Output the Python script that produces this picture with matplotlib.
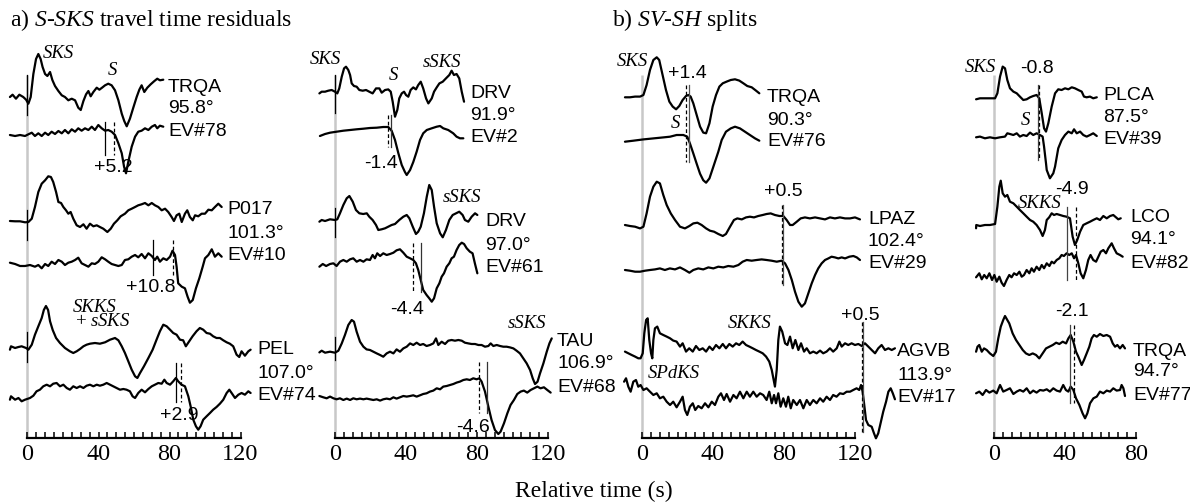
import numpy as np
import matplotlib
matplotlib.use("Agg")
import matplotlib.pyplot as plt
from matplotlib.ticker import FixedLocator

# ---------------------------------------------------------------------------
# Digitised traces: (relative time [s], amplitude [display units])
# ---------------------------------------------------------------------------
# a) S-SKS travel time residuals, left column
trqa_958_data = [(-9.9,0),(-8.4,2.3),(-6.5,-1.7),(-4.6,2.3),(-2.4,0),(-0.8,-2.7),(0.5,-6.7),(1.8,0),(3.3,23),(4.8,38),(6.1,43),(7.4,38),(8.5,30),(9.9,23),(11.2,21),(12.7,25),(14.0,17),(15.5,11),(17.4,6),(19.3,1.7),(21.1,0),(23.0,-3.3),(24.9,-1.7),(26.8,-3.3),(28.6,-10.7),(30.0,-13),(31.5,-4),(33.0,2.7),(34.3,6),(35.6,0.7),(37.1,5),(39.0,9.3),(40.5,7.3),(42.0,9.3),(43.7,11.7),(45.5,13.3),(47.4,11.7),(49.3,6.7),(51.2,-3.3),(53.1,-16.7),(54.5,-24),(55.9,-29.3),(57.7,-21.7),(59.6,-10.7),(61.5,0),(63.0,7.3),(64.3,11.7),(65.8,5),(67.5,9.3),(69.4,12.7),(71.3,15.7),(73.1,18.3),(74.6,16.7),(76.5,17.3)]
ev78_synth = [(-9.9,0),(-7.0,-1),(-4.2,0),(-1.4,-1),(0.5,0.7),(2.4,2.3),(4.2,-1),(6.1,1.7),(8.0,-1),(9.9,2.3),(11.7,0),(13.6,3.3),(15.5,1),(17.4,4),(19.3,1.7),(21.1,5),(23.0,1.7),(24.9,5.7),(26.8,3.3),(28.6,6.7),(30.5,4.3),(32.4,6.7),(34.3,5),(36.2,8.3),(38.0,5),(39.9,10),(41.8,6.7),(43.7,4.3),(45.5,5),(47.4,3.3),(49.3,0),(51.2,-8.3),(53.1,-18.3),(54.4,-31.7),(55.5,-38.3),(56.8,-26.7),(58.7,-11.7),(60.6,-1.7),(62.4,3.3),(64.3,4.3),(66.2,6.7),(68.1,5),(70.0,8.3),(71.8,10),(73.1,6.7),(74.6,9.3),(76.5,8.3)]
p017_data = [(-9.9,1),(-7.0,0.7),(-4.2,0.7),(-1.4,-0.3),(0.5,0),(2.4,3.3),(4.2,15),(6.1,30),(8.0,38.3),(9.9,41.7),(11.7,45.7),(13.2,45),(14.5,40),(16.1,30),(17.4,20),(18.9,19),(20.2,15),(21.7,11.7),(23.0,8.3),(24.3,10),(25.8,3.3),(27.7,-3.3),(29.6,-5),(31.5,-2.3),(33.3,-6.7),(35.2,-1.7),(37.1,-4.3),(39.0,-3.3),(40.8,-5),(42.7,-6.7),(45.0,-10),(46.9,-6.7),(48.7,-1.7),(50.6,1.7),(52.5,5.7),(54.9,8.3),(56.8,11.7),(58.7,13.3),(60.6,15),(62.4,16.7),(64.3,17.7),(66.2,19),(68.1,16.7),(70.0,19),(71.8,16.7),(73.7,15),(75.6,11.7),(77.5,13.3),(79.3,10),(81.2,5),(82.5,1),(84.0,6.7),(85.5,8.3),(86.9,0),(88.7,8.3),(90.0,11.7),(91.5,5),(93.1,1.7),(94.4,6.7),(96.2,5.7),(98.1,8.3),(100.0,8.3),(101.9,12.3),(103.8,11.7),(105.6,15),(107.5,18.3),(109.4,15)]
ev10_synth = [(-9.9,2.3),(-7.0,1),(-4.2,-1),(-1.4,-1),(1.4,0),(4.2,-1.7),(6.1,0),(8.0,-3.3),(9.9,1),(11.7,-1),(13.6,3.3),(15.5,1),(17.4,5),(19.3,3.3),(21.1,0),(23.0,2.3),(24.9,3.3),(26.8,5),(28.6,7.3),(30.5,1.7),(32.4,0),(34.3,-1.7),(36.2,1.7),(38.0,1),(39.9,3.3),(41.8,7.7),(43.7,5.7),(45.5,3.3),(47.4,1),(49.3,0),(51.2,-1),(53.1,0),(54.9,5),(56.8,5.7),(58.7,8.3),(60.6,10),(62.4,7.7),(64.3,11),(66.2,6.7),(68.1,11.7),(70.0,9),(71.8,5),(73.1,8.3),(74.6,3.3),(76.5,6.7),(78.4,5),(80.3,8.3),(81.7,14.3),(83.1,10),(84.0,-1.7),(84.9,-18.3),(86.9,-21.7),(88.7,-23.3),(90.2,-31.7),(91.5,-37.7),(93.1,-35),(94.9,-23.3),(96.8,-13.3),(98.7,-1.7),(100.0,6.7),(101.9,10),(103.8,15.7),(105.6,8.3),(107.5,11.7),(109.4,8.3)]
pel_data = [(-9.9,-1.7),(-9.3,1.7),(-7.0,0),(-5.1,1),(-3.3,1.7),(-0.8,0),(0.5,-1.7),(2.4,3.3),(4.2,13.3),(6.1,21.7),(8.0,30),(9.2,38),(10.4,42),(11.6,38),(12.7,26.7),(14.2,18),(16.1,10),(18.3,5),(21.1,0),(23.9,-3.3),(25.8,-5),(27.7,-3.3),(29.6,-1),(31.5,1.7),(33.3,3.3),(35.2,4.3),(38.0,5),(40.8,4.3),(43.7,5.7),(46.5,8.3),(49.3,10),(51.2,7.7),(53.1,1.7),(54.9,-5),(56.8,-13.3),(58.7,-21.7),(60.6,-28.3),(61.9,-30),(63.4,-25),(65.6,-18.3),(68.1,-10),(70.5,-1.7),(72.7,8.3),(74.6,16.7),(76.5,23.3),(78.4,21.7),(80.3,18.3),(82.1,15),(84.0,13.3),(85.9,8.3),(87.7,7.7),(89.2,1.7),(91.1,6.7),(93.0,11.7),(95.2,16.7),(97.1,20),(99.0,18.3),(100.9,15),(102.8,14.3),(104.6,11.7),(106.5,10),(108.4,10),(110.3,7.7),(112.2,5.7),(114.0,4.3),(115.9,1.7),(117.8,-6.7),(119.3,-9),(120.6,-3.3),(122.5,-7.7),(124.4,-3.3),(125.7,-1.7)]
ev74_synth = [(-9.9,-1.7),(-9.3,1.7),(-7.0,-1.7),(-5.1,0),(-3.3,-3.3),(-1.4,-1.7),(1.4,0),(3.3,2.3),(5.1,6.7),(7.0,8.3),(8.9,11.7),(10.8,13.3),(12.7,11.7),(14.5,14.3),(16.4,15),(18.3,11.7),(20.2,13.3),(22.1,10),(23.9,8.3),(25.8,11.7),(27.7,10),(29.6,11.7),(31.5,10),(33.3,12.3),(35.2,13.3),(37.1,11.7),(39.0,13.3),(40.8,12.3),(42.7,13.3),(44.6,15),(46.5,13.3),(48.3,11.7),(50.2,10),(52.1,8.3),(54.0,9),(55.8,8.3),(57.7,6.7),(59.2,1.7),(60.6,0),(62.4,5),(64.3,8.3),(66.2,5.7),(68.1,9),(70.0,11.7),(71.8,13.3),(73.7,15),(75.6,14.3),(77.1,18.3),(78.4,15),(80.3,13.3),(82.1,16.7),(83.6,20),(84.9,16.7),(86.8,13.3),(88.7,11.7),(90.6,1.7),(91.9,-8.3),(93.4,-21.7),(94.9,-28.3),(96.2,-31.7),(97.5,-28.3),(99.0,-21.7),(100.9,-18.3),(102.8,-15),(104.6,-11.7),(106.5,-9),(108.4,-5.7),(110.3,-1.7),(112.2,5),(113.7,8.3),(115.0,5),(116.9,0),(118.8,3.3),(120.6,5),(122.5,3.3),(124.4,6.7),(125.7,5)]

# a) S-SKS travel time residuals, right column
drv_919_data = [(-8.8,-0.7),(-7.5,1),(-5.6,1),(-3.8,2),(-1.9,2.7),(0.0,1),(1.3,-0.7),(2.4,4.3),(3.8,16),(5.1,24.3),(6.2,26),(7.5,22.7),(8.5,17.7),(9.4,9.3),(10.7,6.7),(12.2,6),(13.7,2.7),(15.6,2),(17.5,2.7),(19.3,1),(21.2,-0.7),(23.1,4.3),(25.0,4.3),(26.3,0),(28.2,2.7),(30.0,3.3),(31.4,1),(32.5,-9),(33.8,-24),(35.1,-17.3),(36.2,-5.7),(37.6,-0.7),(38.9,1),(40.0,-2.3),(41.3,-4),(42.6,2.7),(44.1,5.3),(45.6,3.3),(46.9,7.7),(48.3,11),(49.7,4.3),(51.3,-5.7),(52.6,-10.7),(54.5,-5.7),(55.8,1),(57.3,5.3),(58.8,9.3),(60.7,11),(62.5,14.3),(64.4,17.7),(65.7,22),(67.0,17.7),(68.5,18.7),(70.0,14.3),(71.4,1),(72.7,-9)]
ev2_synth = [(-8.5,-1),(-5.6,1),(-2.8,2.3),(0.9,3.3),(4.7,4.3),(8.5,5),(12.2,5.7),(16.0,6.3),(19.7,7),(23.5,7.3),(27.2,8),(30.0,8),(31.9,4.3),(33.8,-5),(35.7,-18.3),(37.6,-30),(39.4,-37),(40.4,-40),(42.3,-35),(44.1,-27),(46.0,-16.7),(47.9,-5),(49.7,1.7),(51.7,5),(54.5,6.7),(57.3,8.3),(59.2,9),(61.0,6.7),(63.8,5),(66.6,1.7),(68.5,-1.7),(70.4,-3.3),(72.3,-3.3)]
drv_970_data = [(-8.8,-0.7),(-7.5,1),(-5.6,0),(-2.8,1.7),(0.0,1),(1.3,1.7),(2.8,7.7),(4.7,16),(6.6,22.7),(8.1,25),(10.0,19.3),(11.8,11),(13.7,7.7),(15.9,7),(17.9,7.7),(19.3,4.3),(21.2,1),(23.1,-4),(24.4,-9),(26.3,-8.3),(28.2,-7.3),(30.0,-5.7),(31.9,-4),(33.8,-3),(36.2,1),(38.5,4.3),(40.4,6),(41.9,2.7),(43.8,-5.7),(45.6,-13),(46.9,-10.7),(48.3,-5.7),(50.1,7.7),(51.7,24.3),(53.1,36),(54.5,31),(55.8,14.3),(57.3,-2.3),(59.2,-12.3),(60.7,-16.3),(62.5,-9),(64.4,1),(66.3,6),(68.2,7.7),(70.0,9.3),(71.9,6),(73.2,1),(75.1,-0.7),(77.0,4.3),(78.9,7.7),(80.2,6)]
ev61_synth = [(-8.8,-0.7),(-6.9,2),(-5.0,0),(-2.8,2),(-0.9,2.7),(0.9,0),(2.8,4.3),(4.7,6),(6.6,4.3),(8.5,6.7),(10.3,7.7),(12.2,4.3),(14.1,6),(16.0,4.3),(17.8,6.7),(19.7,6),(21.2,11),(22.5,7.7),(23.8,12.7),(25.4,10),(27.2,12.7),(29.1,11),(31.0,12),(32.9,13.3),(34.7,15.7),(36.6,16.7),(38.5,13.3),(40.4,9.3),(42.3,7.7),(44.1,6),(45.6,2.7),(46.9,-4),(48.3,-14),(49.7,-24),(51.6,-29),(53.1,-32.3),(54.5,-35.7),(55.8,-32.3),(57.3,-22.3),(58.8,-17.3),(60.1,-10.7),(61.4,-7.3),(62.9,-0.7),(64.4,2.7),(65.7,7.7),(67.0,9.3),(68.5,16),(70.0,21),(71.4,23.3),(72.7,22),(74.2,17.7),(76.0,14.3),(77.5,12.7),(78.8,2.7),(80.2,-7.3)]
tau_data = [(-8.8,-0.7),(-7.5,1),(-5.6,-1),(-2.8,0),(0.0,-1),(1.9,1),(3.8,8.3),(5.6,16.7),(7.5,26.7),(9.4,31.7),(10.7,30),(12.2,20),(14.1,10),(16.0,5),(17.8,2.3),(19.7,1.7),(21.6,0),(23.5,-1.7),(25.4,-3.3),(27.2,-5),(29.1,-1.7),(31.0,0),(32.9,-1.7),(34.7,2.3),(36.6,0),(38.5,3.3),(40.4,5),(42.3,8.3),(44.1,6.7),(46.0,9),(47.9,6.7),(49.7,7.7),(51.6,5.7),(53.5,6.7),(55.4,8.3),(56.9,13.3),(58.2,6.7),(60.1,10),(62.0,7.7),(63.8,11),(65.7,11.7),(67.6,11),(69.5,11.7),(71.4,11),(73.2,9),(75.1,8.3),(77.0,7.7),(78.9,7.7),(80.8,6.7),(82.6,6.7),(84.5,5),(86.4,5.7),(87.7,8.3),(89.2,5.7),(91.1,6.7),(93.0,5.7),(94.8,5),(96.7,5),(98.6,4.3),(100.5,3.3),(102.3,1),(104.2,-1.7),(106.1,-6.7),(108.0,-11.7),(109.9,-18.3),(111.4,-26.7),(112.7,-32.3),(114.1,-30),(115.5,-21.7),(117.4,-11.7),(119.3,0),(120.8,8.3),(122.1,13.3)]
ev68_synth = [(-8.8,1.3),(-6.6,0),(-4.7,-1),(-2.8,0.7),(-0.9,-1),(0.9,-2),(2.8,-1),(4.7,-2.7),(6.6,-1.3),(8.5,-2.7),(10.3,-1),(12.2,-2),(14.1,-1.3),(16.0,-2),(17.8,-1.3),(19.7,-2),(21.6,-2.7),(23.5,-2),(25.4,-3.3),(27.2,-2),(29.1,-1.3),(31.0,-2),(32.9,0),(34.7,-1.3),(36.6,0),(38.5,1.3),(40.4,0.7),(42.3,1.3),(44.1,2),(46.0,0.7),(47.9,2),(49.7,3.3),(51.6,4),(53.5,5.7),(55.4,6.7),(57.3,9),(59.2,8),(61.0,10.7),(62.9,11.3),(64.8,12.3),(66.7,13.3),(68.5,14.7),(70.4,15.7),(72.3,17.3),(74.2,18),(76.0,17.3),(77.9,19),(79.8,18),(81.3,19),(82.6,15.7),(84.5,5.7),(86.4,-9.3),(88.2,-22.7),(90.1,-32.7),(92.0,-36.7),(93.3,-34.3),(95.2,-26),(97.1,-16),(98.9,-7.7),(100.8,-2.7),(102.7,3.3),(104.6,5.7),(106.4,6.7),(108.3,4.7),(110.2,7.3),(112.1,9),(114.0,10.7),(115.8,9),(117.7,10),(119.6,7.3),(121.5,4.7)]

# b) SV-SH splits, left column (SV on top, SH below)
trqa_903_sv = [(-9.6,0),(-6.8,0),(-3.9,0.7),(-1.1,0.7),(0.8,2.3),(2.6,12.3),(4.5,27.3),(6.4,37.3),(8.3,40),(9.7,37.3),(11.6,22.3),(13.5,7.3),(15.4,-4.3),(17.3,-9.3),(19.2,-12),(21.0,-8.7),(22.9,-2.7),(24.8,1.3),(26.1,2.3),(27.4,0.7),(28.9,-6),(30.8,-17.7),(32.7,-29.3),(34.5,-35.3),(36.1,-36),(38.0,-26),(39.8,-9.3),(41.7,2.3),(43.6,10.7),(45.5,14),(47.7,15.7),(50.0,17.3),(52.4,18),(54.8,16.7),(57.1,14),(59.3,11.3),(61.8,10),(64.2,6.7),(66.1,4)]
ev76_sh = [(-9.6,0),(-4.9,1),(0.8,2.3),(6.4,3.3),(12.0,4.3),(15.8,5),(19.5,6.7),(23.3,6.7),(25.5,5),(27.0,-1.7),(28.9,-11.7),(30.8,-22),(32.7,-32),(34.5,-38.5),(36.1,-41),(38.0,-36.7),(40.2,-25),(43.0,-10),(44.9,1.7),(47.3,10),(50.0,13.3),(52.4,15),(55.2,13.3),(58.0,10),(60.8,6.7),(63.7,3.3),(66.1,1)]
lpaz_sv = [(-9.6,1.7),(-6.8,0.7),(-3.9,0),(-1.1,-1.7),(0.8,0),(2.6,13.3),(4.5,30),(6.4,40),(8.3,45),(10.1,43.3),(12.0,31.7),(13.9,21.7),(16.2,13.3),(18.6,6.7),(21.4,0),(24.2,-1.7),(26.7,0.7),(28.9,3.3),(31.2,4),(33.6,1.7),(36.1,-1.7),(38.3,-4),(40.6,-5),(43.0,-7.3),(45.5,-9.3),(47.3,-7.3),(49.6,0),(51.8,6.7),(53.7,8.3),(56.2,7.3),(58.6,9.3),(60.8,10),(63.1,9.3),(65.5,10.7),(68.0,11.7),(70.2,12.7),(72.5,13.3),(74.9,11.7),(77.4,10.7),(79.6,10.7),(81.5,6.7),(83.4,1.7),(84.9,1.7),(87.2,5),(89.4,8.3),(91.8,9.3),(94.6,8.3),(97.5,9.3),(100.3,8.3),(103.1,7.3),(105.9,9.3),(108.7,8.3),(111.5,9.3),(114.4,8.3),(117.2,8.3),(120.0,9.3),(122.8,7.3)]
ev29_sh = [(-9.6,0.7),(-6.8,0),(-3.9,-1),(-1.1,-1),(1.7,0),(4.5,0.7),(7.3,1.3),(10.1,2.3),(12.9,0.7),(15.7,2.3),(18.6,1.3),(21.4,3.3),(24.2,0.7),(26.7,-2),(28.9,0.7),(31.7,2.3),(34.5,1.3),(37.4,3.3),(40.2,2.3),(43.0,4),(45.8,3.3),(48.6,4.7),(51.5,4),(54.3,5.7),(56.7,9),(59.0,10.7),(61.8,10),(64.6,10.7),(67.4,11.3),(70.2,10.7),(73.0,10),(75.9,9),(78.7,10),(80.6,7.3),(82.5,0.7),(84.4,-9.3),(86.2,-21),(88.1,-31),(90.0,-36),(91.8,-32.7),(93.7,-22.7),(95.6,-12.7),(97.5,-4.3),(99.3,2.3),(101.2,7.3),(103.1,10.7),(105.0,12.3),(106.8,14),(108.7,13.3),(110.6,12.3),(112.5,13.3),(114.4,12.3),(116.8,14),(119.1,14.7),(121.0,13.3),(122.8,10.7)]
agvb_sv = [(-9.6,1.7),(-7.7,0),(-5.8,-1.7),(-3.9,-3.3),(-2.1,-5),(-0.8,-5),(0.4,0),(1.3,20),(2.3,33.3),(3.2,35),(4.1,13.3),(5.1,0),(5.8,-5),(6.4,13.3),(7.3,25),(8.6,26.7),(10.1,20),(12.0,18.3),(13.9,16.7),(15.8,15),(17.6,12.7),(19.5,11.7),(21.4,6.7),(22.9,10),(24.8,1.7),(26.6,5),(28.6,1.7),(30.4,7.3),(32.3,3.3),(34.2,5),(36.1,1.7),(38.0,6.7),(39.8,3.3),(41.7,8.3),(43.6,5),(45.5,9.3),(47.3,5),(49.2,9.3),(51.1,6.7),(53.0,10),(54.8,8.3),(56.7,11.7),(58.6,8.3),(60.5,6.7),(62.4,5),(64.2,3.3),(66.1,1.7),(68.0,0),(69.9,-3.3),(71.7,-8.3),(73.1,-16.7),(74.0,-25),(74.9,-33.3),(75.9,-16.7),(76.8,13.3),(77.7,26.7),(79.0,21.7),(80.6,10),(81.9,8.3),(83.4,16.7),(84.9,5),(86.4,13.3),(88.1,3.3),(89.6,10),(91.3,1.7),(92.8,5),(94.6,0),(96.5,1.7),(98.4,0),(100.3,2.7),(102.1,0),(104.0,1.7),(105.9,5),(107.7,1.7),(109.7,5),(111.2,11.7),(112.5,6.7),(114.4,10),(116.2,8.3),(118.1,10),(120.0,8.3),(121.9,9.3),(123.8,7.3),(125.6,10),(127.5,6.7),(129.4,3.3),(131.3,0),(133.1,5),(135.0,8.3),(136.9,3.3),(138.8,5),(140.7,3.3),(142.5,5)]
ev17_sh = [(-10.1,8.3),(-9.0,11.7),(-7.7,3.3),(-6.4,-1.7),(-4.9,8.3),(-3.4,10),(-2.1,3.3),(-0.8,5),(0.8,0),(2.6,1.7),(4.5,-1.7),(6.4,-5),(8.3,-3.3),(10.1,-8.3),(12.0,-6.7),(13.9,-11.7),(15.8,-15),(17.6,-11.7),(19.5,-17.3),(21.4,-11.7),(22.9,-6.7),(24.2,-20),(25.5,-25),(27.0,-16.7),(28.6,-13.3),(30.0,-20),(31.7,-16),(33.6,-18.3),(35.5,-13.3),(37.4,-17.3),(39.3,-11.7),(41.1,-15),(43.0,-6.7),(44.5,-3.3),(46.2,-10),(47.7,-4),(49.6,-11.7),(51.5,-5),(53.3,-8.3),(55.2,-1.7),(57.1,-8.3),(59.0,-1.7),(60.8,-6.7),(62.7,-1.7),(64.6,-6.7),(66.5,-3.3),(68.3,-5),(70.2,-10),(71.7,-1.7),(73.1,-13.3),(74.4,-5),(75.5,-13.3),(76.8,-3.3),(78.1,-16.7),(79.6,-8.3),(81.1,-16.7),(82.4,-6.7),(83.8,-18.3),(85.2,-10),(87.2,-15),(89.0,-10),(90.9,-18.3),(92.8,-10),(94.6,-15),(96.5,-10),(98.4,-13.3),(100.3,-8.3),(102.1,-11.7),(104.0,-6.7),(105.9,-10),(107.7,-5),(109.6,-6.7),(111.5,-3.3),(113.4,-4),(115.3,-1.7),(117.2,-1.7),(119.0,0),(120.9,1.7),(122.4,0),(123.4,5),(124.3,-1.7),(125.1,-13.3),(126.2,-30),(127.5,-35),(129.4,-36.7),(130.7,-43.3),(131.8,-48.3),(133.1,-43.3),(134.4,-33.3),(135.9,-21.7),(137.5,-11.7),(138.8,-1.7),(140.1,1.7),(141.3,-3.3),(142.5,-9.3)]

# b) SV-SH splits, right column
plca_sv = [(-10.1,-1),(-7.9,0),(-5.1,0),(-2.3,0),(0.6,0),(1.9,5),(3.4,21.7),(4.9,31.7),(6.2,30),(7.5,18.3),(9.0,10),(10.9,6.7),(12.8,5),(14.6,1.7),(16.5,-1.7),(18.4,-1),(20.3,1),(22.1,2.3),(24.0,3.3),(25.5,0),(26.9,-15),(28.2,-30),(29.3,-33.3),(30.6,-25),(32.5,-8.3),(34.4,5),(36.2,9),(38.1,8.3),(40.0,10),(41.9,9),(43.8,11),(45.6,10),(47.5,8.3),(49.4,6.7),(50.7,1.7),(52.2,1),(54.1,1.7),(55.9,0),(57.9,1)]
ev39_sh = [(-10.1,0),(-7.9,0.7),(-5.1,-1),(-2.3,0),(0.6,-1),(3.4,0),(6.2,0.7),(7.5,4),(9.0,3.3),(10.9,2.3),(12.8,4),(14.6,0.7),(16.5,2.3),(18.4,1.3),(20.3,4.7),(22.1,2.3),(24.0,4),(25.9,2.3),(27.4,0.7),(28.2,-9.3),(29.3,-26),(29.7,-32.7),(31.5,-41),(33.4,-36),(34.4,-29.3),(36.2,-11),(38.1,-2.7),(40.0,2.3),(41.9,5.7),(43.8,4),(45.1,8),(46.6,4),(48.5,5.7),(50.3,2.3),(52.2,0.7),(54.1,2.3),(55.9,4),(57.9,1.3)]
lco_sv = [(-10.1,-3.3),(-10.0,0),(-7.9,-1),(-5.1,0),(-2.3,0),(0.6,1),(1.9,18.3),(3.0,38.3),(3.8,44.3),(4.9,31.7),(6.2,28.3),(7.5,30),(9.0,23.3),(10.9,21.7),(12.8,18.3),(14.6,15),(16.5,11.7),(18.4,8.3),(20.3,5),(22.1,3.3),(24.0,0),(25.9,-5),(27.4,-11),(28.7,-5),(29.7,5),(31.1,7.7),(32.5,11.7),(33.8,10),(35.3,11),(37.2,10),(39.0,9),(40.9,8.3),(42.8,6.7),(44.3,-11.7),(45.6,-20),(46.9,-15),(48.5,-6.7),(50.3,0),(52.2,1.7),(54.1,3.3),(55.9,5),(57.9,6.7),(59.7,5),(61.6,9),(63.5,6.7),(65.4,9),(67.2,10),(68.7,7.7),(70.0,5.7),(71.4,6.7)]
ev82_sh = [(-10.1,-2.3),(-8.3,1.7),(-6.9,-4.3),(-5.5,0),(-4.1,-3.3),(-2.6,1.7),(-1.1,-5),(0.2,0),(1.5,-6.7),(3.0,-1.7),(4.3,-7.7),(5.6,-11),(7.1,-5),(8.6,0),(9.9,-2.3),(11.3,1.7),(12.8,0),(14.3,3.3),(15.6,-1.7),(16.9,0),(18.4,5),(19.9,1.7),(21.2,6.7),(22.5,3.3),(24.0,8.3),(25.5,5),(26.9,10),(28.2,6.7),(29.7,11.7),(31.2,9),(32.5,13.3),(33.8,11.7),(35.3,15),(36.8,16.7),(38.1,20),(39.4,19),(40.9,21.7),(42.4,20),(43.8,21.7),(45.1,16.7),(46.2,20),(47.5,11.7),(48.8,1.7),(50.3,-3.3),(51.8,5),(53.1,15),(54.4,20),(55.9,15),(57.5,13.3),(58.8,18.3),(60.1,23.3),(61.6,25),(63.1,21.7),(64.4,26.7),(66.3,31.7),(67.6,26.7),(69.1,21.7),(71.0,20),(72.5,18.3)]
trqa_947_sv = [(-10.1,0),(-9.3,5),(-8.3,6.7),(-6.9,0),(-5.6,3.3),(-4.1,1.7),(-2.3,-1.7),(-0.4,-4.3),(1.1,0),(2.4,13.3),(3.8,25),(5.2,31.7),(6.2,35.7),(8.6,28.3),(10.5,18.3),(12.4,11.7),(14.3,6.7),(16.2,1.7),(18.0,-1.7),(19.9,-3.3),(21.8,-1.7),(23.7,-3.3),(25.5,-6.7),(27.4,-1.7),(29.3,3.3),(31.2,5),(33.1,6.7),(35.0,9),(36.8,7.7),(38.7,10),(40.6,8.3),(41.9,13.3),(43.2,16.7),(44.7,10),(46.2,0),(47.5,-5),(49.4,-13.3),(50.7,-8.3),(52.2,-1.7),(53.7,5),(55.0,13.3),(56.3,16.7),(57.9,15),(59.7,17.7),(61.6,15.7),(63.5,16.7),(65.4,15),(66.9,8.3),(68.2,5),(69.5,6.7),(71.0,3.3),(72.5,6.7),(73.8,3.3)]
ev77_sh = [(-10.1,0),(-8.3,1.7),(-6.4,-1.7),(-4.5,3.3),(-2.6,0.7),(-0.4,2.7),(1.5,0),(3.4,8.3),(5.2,1.7),(7.1,3.3),(9.0,5),(10.9,-0.7),(12.8,1.7),(14.6,3.3),(16.5,1.7),(18.4,5),(20.3,0),(22.1,2.7),(24.0,0.7),(25.9,3.3),(27.8,2.7),(29.7,4),(31.5,1.7),(33.4,5),(35.3,2.7),(37.2,1.7),(39.0,8.3),(40.5,3.3),(41.9,1.7),(43.2,6.7),(44.7,3.3),(46.2,-5),(48.1,-11.7),(49.9,-20),(51.3,-25),(52.6,-20),(54.1,-10),(56.0,-5),(57.9,-3.3),(59.7,1.7),(61.6,0),(63.5,2.7),(65.4,1.7),(67.2,5),(69.1,2.7),(71.0,3.3),(71.9,8.3),(72.9,5),(73.8,-2.7)]

# Travel time residuals (s): solid pick time and residual (dashed = solid + residual)
residual_picks = {"EV#78": (43.7, 5.2), "EV#10": (70.9, 10.8), "EV#74": (83.8, 2.9),
                  "EV#2": (31.4, -1.4), "EV#61": (48.2, -4.4), "EV#68": (85.6, -4.6)}
# SV-SH splits (s): solid pick time and split (dashed = solid - split)
split_picks = {"EV#76": (26.4, 1.4), "EV#29": (79.2, 0.5), "EV#17": (124.3, 0.5),
               "EV#39": (24.6, -0.8), "EV#82": (41.3, -4.9), "EV#77": (42.8, -2.1)}

# ---------------------------------------------------------------------------
W, H = 1190, 503
PX_PER_S = 1.775
AXIS_Y = 437.5
SERIF = "Liberation Serif"
SANS = ["Liberation Sans", "DejaVu Sans"]
LABEL_SIZE = 14
PHASE_SIZE = 13.5
plt.rcParams["mathtext.fontset"] = "custom"
plt.rcParams["mathtext.rm"] = SERIF
plt.rcParams["mathtext.it"] = SERIF + ":italic"

fig = plt.figure(figsize=(W / 100, H / 100), dpi=100)


def make_panel(left, right, t0_px, tmax, ticks):
    ax = fig.add_axes([left / W, 0, (right - left) / W, 1])
    ax.set_xlim((left - t0_px) / PX_PER_S, (right - t0_px) / PX_PER_S)
    ax.set_ylim(H, 0)
    ax.patch.set_alpha(0)
    for side in ("top", "left", "right"):
        ax.spines[side].set_visible(False)
    sp = ax.spines["bottom"]
    sp.set_position(("data", AXIS_Y))
    sp.set_bounds(0, tmax)
    sp.set_linewidth(1.6)
    ax.set_yticks([])
    ax.xaxis.set_major_locator(FixedLocator(ticks))
    ax.xaxis.set_minor_locator(FixedLocator(np.arange(0, tmax + 1, 5)))
    ax.tick_params(axis="x", which="both", direction="in", length=4, width=1.1, pad=5)
    ax.set_xticklabels([str(t) for t in ticks], fontfamily=SERIF, fontsize=17.5)
    ax.plot([0, 0], [75, AXIS_Y], color="#c8c8c8", lw=1.8, zorder=1, solid_capstyle="butt")
    return ax


def trace(ax, pairs, base):
    t, a = np.array(pairs, dtype=float).T
    ax.plot(t, base - a, color="black", lw=1.6, zorder=3,
            solid_joinstyle="round", solid_capstyle="round")


def vmark(ax, t, y0, y1, dashed=False, color="black"):
    ax.plot([t, t], [y0, y1], color=color, lw=0.9, zorder=4,
            linestyle=(0, (3, 2)) if dashed else "-")


def station(ax, t, ys, lines):
    for y, s in zip(ys, lines):
        ax.text(t, y, s, fontfamily=SANS, fontsize=LABEL_SIZE, ha="left", va="center")


def sans(ax, t, y, s, ha="center"):
    ax.text(t, y, s, fontfamily=SANS, fontsize=LABEL_SIZE, ha=ha, va="center")


def phase(ax, t, y, s, ha="left"):
    ax.text(t, y, s, fontfamily=SERIF, fontstyle="italic", fontsize=PHASE_SIZE,
            ha=ha, va="center")


# ---- panel a, left column ----
ax1 = make_panel(0, 298, 27.5, 120, [0, 40, 80, 120])
trace(ax1, trqa_958_data, 97)
trace(ax1, ev78_synth, 135)
trace(ax1, p017_data, 222)
trace(ax1, ev10_synth, 265)
trace(ax1, pel_data, 348)
trace(ax1, ev74_synth, 398)
for y0, y1 in [(75, 115), (210, 240), (332, 362)]:
    vmark(ax1, 0, y0, y1)
for key, (y0, y1), (lx, ly) in [("EV#78", (122, 155), (48.2, 168)),
                                 ("EV#10", (240, 275), (69.6, 288)),
                                 ("EV#74", (363, 402), (85.6, 415))]:
    ts, r = residual_picks[key]
    vmark(ax1, ts, y0, y1)
    vmark(ax1, ts + r, y0, y1, dashed=True)
    sans(ax1, lx, ly, f"{r:+.1f}")
phase(ax1, 8.7, 53, "SKS")
phase(ax1, 47.6, 70, "S", ha="center")
phase(ax1, 25.6, 307, "SKKS")
ax1.text(26.8, 322, "+ $\\mathit{sSKS}$", fontfamily=SERIF, fontsize=PHASE_SIZE,
         ha="left", va="center")
station(ax1, 79.2, [87, 108, 131], ["TRQA", "95.8°", "EV#78"])
station(ax1, 112.4, [210, 233, 255], ["P017", "101.3°", "EV#10"])
station(ax1, 129.3, [350, 373, 395], ["PEL", "107.0°", "EV#74"])

# ---- panel a, right column ----
ax2 = make_panel(298, 600, 335, 120, [0, 40, 80, 120])
trace(ax2, drv_919_data, 92.7)
trace(ax2, ev2_synth, 135)
trace(ax2, drv_970_data, 221)
trace(ax2, ev61_synth, 266)
trace(ax2, tau_data, 351.7)
trace(ax2, ev68_synth, 397.3)
for y0, y1 in [(75, 113), (208, 237), (337, 360)]:
    vmark(ax2, 0, y0, y1)
for key, (y0, y1), (lx, ly) in [("EV#2", (115, 147), (25.9, 163)),
                                 ("EV#61", (243, 292), (40.6, 310)),
                                 ("EV#68", (362, 413), (77.7, 427))]:
    ts, r = residual_picks[key]
    vmark(ax2, ts, y0, y1, color="#333333")
    vmark(ax2, ts + r, y0, y1, dashed=True)
    sans(ax2, lx, ly, f"{r:+.1f}".replace("+", ""))
phase(ax2, -14.1, 59, "SKS")
phase(ax2, 32.7, 75, "S", ha="center")
phase(ax2, 49.6, 62, "sSKS")
phase(ax2, 60.8, 197, "sSKS")
phase(ax2, 97.5, 324, "sSKS")
station(ax2, 76.1, [93, 115, 138], ["DRV", "91.9°", "EV#2"])
station(ax2, 84.5, [222, 245, 268], ["DRV", "97.0°", "EV#61"])
station(ax2, 125.1, [342, 363, 387], ["TAU", "106.9°", "EV#68"])

# ---- panel b, left column ----
ax3 = make_panel(600, 930, 642, 120, [0, 40, 80, 120])
trace(ax3, trqa_903_sv, 97.3)
trace(ax3, ev76_sh, 141.7)
trace(ax3, lpaz_sv, 226.7)
trace(ax3, ev29_sh, 270.7)
trace(ax3, agvb_sv, 353.3)
trace(ax3, ev17_sh, 390)
for key, (y0, y1), (lx, ly) in [("EV#76", (85, 162), (25.4, 73)),
                                 ("EV#29", (205, 285), (79.4, 192)),
                                 ("EV#17", (322, 432), (122.8, 315))]:
    ts, s = split_picks[key]
    vmark(ax3, ts, y0, y1, color="#555555")
    vmark(ax3, ts - s, y0, y1, dashed=True)
    sans(ax3, lx, ly, f"{s:+.1f}")
phase(ax3, -14.1, 61, "SKS")
phase(ax3, 18.6, 123, "S", ha="center")
phase(ax3, 48.5, 323, "SKKS")
phase(ax3, 3.4, 373, "SPdKS")
station(ax3, 70.4, [97, 120, 142], ["TRQA", "90.3°", "EV#76"])
station(ax3, 127.3, [220, 242, 263], ["LPAZ", "102.4°", "EV#29"])
station(ax3, 143.7, [352, 375, 397], ["AGVB", "113.9°", "EV#17"])

# ---- panel b, right column ----
ax4 = make_panel(930, 1190, 994, 80, [0, 40, 80])
trace(ax4, plca_sv, 98.3)
trace(ax4, ev39_sh, 137.3)
trace(ax4, lco_sv, 225)
trace(ax4, ev82_sh, 275)
trace(ax4, trqa_947_sv, 351.7)
trace(ax4, ev77_sh, 393.3)
for key, (y0, y1), (lx, ly) in [("EV#39", (85, 160), (24.2, 68)),
                                 ("EV#82", (207, 280), (43.9, 190)),
                                 ("EV#77", (325, 403), (43.9, 312))]:
    ts, s = split_picks[key]
    vmark(ax4, ts, y0, y1, color="#444444")
    vmark(ax4, ts - s, y0, y1, dashed=True)
    sans(ax4, lx, ly, f"{s:+.1f}".replace("+", ""))
phase(ax4, -16.3, 67, "SKS")
phase(ax4, 17.5, 120, "S", ha="center")
phase(ax4, 13.5, 203, "SKKS")
station(ax4, 61.4, [95, 117, 140], ["PLCA", "87.5°", "EV#39"])
station(ax4, 76.6, [218, 240, 263], ["LCO", "94.1°", "EV#82"])
station(ax4, 78.3, [352, 372, 395], ["TRQA", "94.7°", "EV#77"])

# ---- titles and shared axis label ----
fig.text(10 / W, 1 - 20 / H, "a) $\\mathit{S}$-$\\mathit{SKS}$ travel time residuals",
         fontfamily=SERIF, fontsize=17, ha="left", va="center")
fig.text(612 / W, 1 - 20 / H, "b) $\\mathit{SV}$-$\\mathit{SH}$ splits",
         fontfamily=SERIF, fontsize=17, ha="left", va="center")
fig.text(594 / W, 1 - 491 / H, "Relative time (s)", fontfamily=SERIF, fontsize=17,
         ha="center", va="center")

fig.savefig("out.png", dpi=100)
